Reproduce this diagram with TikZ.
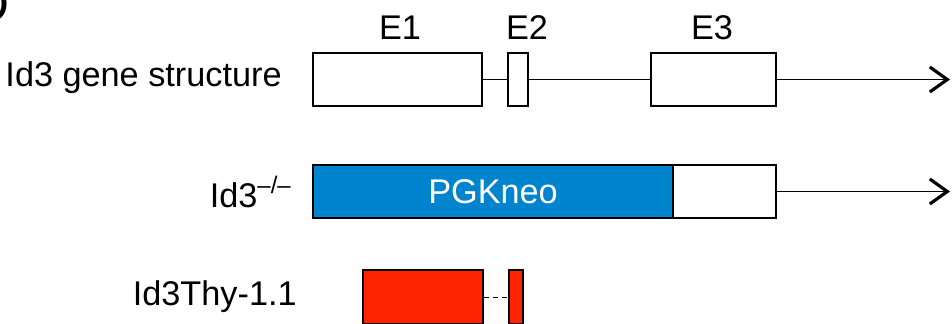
\documentclass[tikz,border=0pt]{standalone}
\usepackage{fontspec}
\setmainfont{Liberation Sans}
\usetikzlibrary{arrows.meta}

\definecolor{neoblue}{RGB}{0,132,206}
\definecolor{thyred}{RGB}{255,36,0}

\tikzset{
  exon/.style={draw, line width=1.1pt, minimum height=1.06cm, inner sep=0pt},
  intron/.style={line width=0.9pt},
  lbl/.style={font=\fontsize{19.5}{22}\selectfont, inner sep=0pt}
}

\begin{document}
\begin{tikzpicture}[x=0.02cm, y=-0.02cm]
\useasboundingbox (0,0) rectangle (952,324);

\draw (-9,4) node(PANEL)[font=\fontsize{30}{32}\selectfont]{D};

% wild type locus
\draw (282,78) node(WT)[lbl,anchor=east]{Id3 gene structure};
\draw (397.5,79.5) node(E1)[exon,minimum width=3.38cm]{};
\draw (518,79.5) node(E2)[exon,minimum width=0.4cm]{};
\draw (713.5,79.5) node(E3)[exon,minimum width=2.5cm]{};
\coordinate (ENDONE) at (950,79.5);
\draw (400,28) node(LE1)[lbl]{E1};
\draw (527,28) node(LE2)[lbl]{E2};
\draw (712,28) node(LE3)[lbl]{E3};

\draw[intron] (E1) -- (E2);
\draw[intron] (E2) -- (E3);
\draw[intron, -{Straight Barb[length=3.5mm,width=5mm,line width=1.8pt]}] (E3) -- (ENDONE);

% knockout
\draw (292,192) node(KO)[lbl,anchor=east]{Id3\textsuperscript{–/–}};
\draw (493,191.5) node(NEO)[exon,fill=neoblue,minimum width=7.2cm,text=white,lbl]{PGKneo};
\draw (724.5,191.5) node(TAIL)[exon,minimum width=2.06cm]{};
\coordinate (ENDTWO) at (950,191.5);
\draw[intron, -{Straight Barb[length=3.5mm,width=5mm,line width=1.8pt]}] (TAIL) -- (ENDTWO);

% reporter
\draw (297,297) node(THY)[lbl,anchor=east]{Id3Thy-1.1};
\draw (423,297) node(RONE)[exon,fill=thyred,minimum width=2.4cm,minimum height=1.08cm]{};
\draw (516,297) node(RTWO)[exon,fill=thyred,minimum width=0.28cm,minimum height=1.08cm]{};
\draw[densely dashed, line width=0.5pt] (RONE) -- (RTWO);

\end{tikzpicture}
\end{document}
